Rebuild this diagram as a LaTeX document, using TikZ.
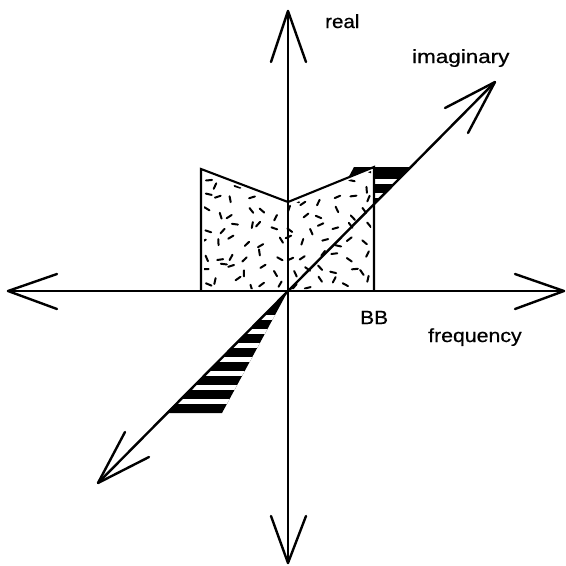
\documentclass[tikz,border=0pt]{standalone}
\usepackage{fontspec}
\setmainfont{Liberation Sans}
\newfontfamily\lblfont[FakeBold=0.6]{Liberation Sans}
\begin{document}
\begin{tikzpicture}[x=1pt,y=-1pt,
  axis/.style={line width=2.4pt,line cap=round},
  barb/.style={line width=2.4pt,line cap=round,line join=round},
  boxline/.style={line width=2.1pt,line join=miter},
  speck/.style={line width=2pt,line cap=round},
  lbl/.style={inner sep=0pt,anchor=base west,font=\lblfont\fontsize{19}{20}\selectfont}]
\useasboundingbox (0,0) rectangle (566,566);
% key points
\coordinate (O) at (288,291);
\coordinate (L) at (8,291);   \coordinate (R) at (564,291);
\coordinate (T) at (288,11);  \coordinate (B) at (288,563);
\coordinate (DL) at (98,483); \coordinate (DR) at (495,82);
% upper striped (imaginary) triangle
\coordinate (ua) at (354,167); \coordinate (ub) at (412,167);
\fill (O) -- (ua) -- (ub) -- cycle;
\begin{scope}
  \clip (O) -- (ua) -- (ub) -- cycle;
  \foreach \k in {0,...,6}
    \fill[white] (280,{291-26-14*\k-2.5}) rectangle (420,{291-26-14*\k+2.5});
\end{scope}
% lower striped triangle
\coordinate (la) at (222,413); \coordinate (lb) at (166,413);
\fill (O) -- (la) -- (lb) -- cycle;
\begin{scope}
  \clip (O) -- (la) -- (lb) -- cycle;
  \foreach \k in {0,...,6}
    \fill[white] (160,{291+26+14*\k-2.5}) rectangle (300,{291+26+14*\k+2.5});
\end{scope}
% real part box
\coordinate (b1) at (201,291); \coordinate (b2) at (201,169);
\coordinate (b3) at (288,202); \coordinate (b4) at (374,167);
\coordinate (b5) at (374,291);
\fill[white] (b1) -- (b2) -- (b3) -- (b4) -- (b5) -- cycle;
\begin{scope}
  \clip (204,289) -- (204,173) -- (288,206) -- (371,171) -- (371,289) -- cycle;
  \pgfmathsetseed{12}
  \foreach \i in {0,...,11}
    \foreach \j in {0,...,8} {
      \pgfmathsetmacro\px{200+14.5*\i+rnd*10}
      \pgfmathsetmacro\py{166+14*\j+rnd*10}
      \pgfmathsetmacro\an{rnd*180}
      \draw[speck] (\px,\py) ++(\an:3) -- ++(\an+180:6);
    }
\end{scope}
\draw[boxline] (b1) -- (b2) -- (b3) -- (b4) -- (b5);
% axes
\draw[axis] (L) -- (R);
\draw[axis] (T) -- (B);
\draw[axis] (DL) -- (DR);
% open arrowheads
\coordinate (r1) at (515,274); \coordinate (r2) at (515,309);
\coordinate (l1) at (57,274);  \coordinate (l2) at (57,309);
\coordinate (t1) at (271,62);  \coordinate (t2) at (306,62);
\coordinate (d1) at (271,516); \coordinate (d2) at (306,516);
\coordinate (dl1) at (125,432); \coordinate (dl2) at (149,457);
\coordinate (dr1) at (445,108); \coordinate (dr2) at (468,133);
\draw[barb] (r1) -- (R) -- (r2);
\draw[barb] (l1) -- (L) -- (l2);
\draw[barb] (t1) -- (T) -- (t2);
\draw[barb] (d1) -- (B) -- (d2);
\draw[barb] (dl1) -- (DL) -- (dl2);
\draw[barb] (dr1) -- (DR) -- (dr2);
% labels
\node[lbl] (real) at (325,28) {\scalebox{1.08}[1]{real}};
\node[lbl] (imag) at (412,63) {\scalebox{1.18}[1]{imaginary}};
\node[lbl] (bb) at (360,324) {\scalebox{1.1}[1]{BB}};
\node[lbl] (freq) at (428,342) {\scalebox{1.12}[1]{frequency}};
\end{tikzpicture}
\end{document}
